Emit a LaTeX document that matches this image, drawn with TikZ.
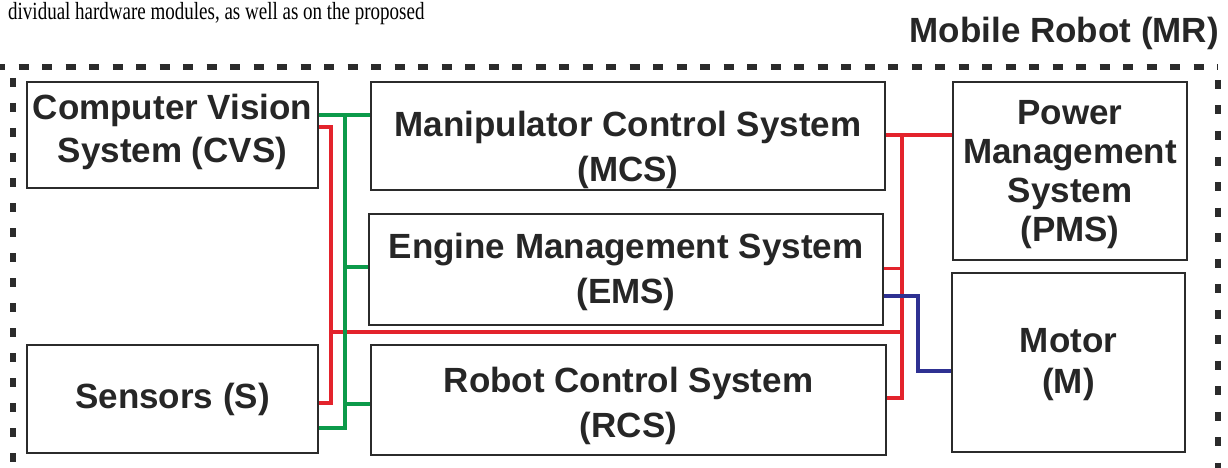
\documentclass[tikz,border=0pt]{standalone}
\usepackage{fontspec}
\setmainfont{Liberation Sans}
\newfontfamily\serifhdr{Liberation Serif}
\usetikzlibrary{calc}
\pgfdeclarelayer{bg}
\pgfsetlayers{bg,main}
\definecolor{bx}{HTML}{2B2B2B}
\definecolor{tx}{HTML}{262626}
\definecolor{rd}{HTML}{E3232C}
\definecolor{gn}{HTML}{0C9A4A}
\definecolor{bl}{HTML}{2E3192}
\begin{document}
\begin{tikzpicture}[x=1pt,y=-1pt,
  box/.style={draw=bx,line width=2.8pt,fill=white,inner sep=0pt},
  lbl/.style={text=tx,align=center,inner sep=0pt,font=\bfseries\fontsize{35}{#1}\selectfont},
  lbl/.default=42,
  rw/.style={draw=rd,line width=4pt},
  gw/.style={draw=gn,line width=4pt},
  bw/.style={draw=bl,line width=4pt},
  border/.style={draw=bx,line width=6pt}]
\useasboundingbox (0,0) rectangle (1228,468);

% header text
\node[anchor=base west,inner sep=0pt,text=black,yscale=1.3,font=\serifhdr\fontsize{19}{22}\selectfont] (hdr) at (8,19.5) {dividual hardware modules, as well as on the proposed};
\node[anchor=base east,lbl=40] (mr) at (1219,43) {Mobile Robot (MR)};

% dashed border
\draw[border,dash pattern=on 10pt off 13.5pt] (-5,67) -- (1218,67);
\draw[border,dash pattern=on 9pt off 16pt] (12.5,78) -- (12.5,475);
\draw[border,dash pattern=on 9pt off 16.5pt] (1218,80) -- (1218,475);

% boxes
\node[box,minimum width=291pt,minimum height=106pt] (cvs) at (172.5,135) {};
\node[box,minimum width=291pt,minimum height=108pt] (sens) at (172.5,399) {};
\node[box,minimum width=514pt,minimum height=108pt] (mcs) at (628,136) {};
\node[box,minimum width=514pt,minimum height=111pt] (ems) at (626,269.5) {};
\node[box,minimum width=515pt,minimum height=110pt] (rcs) at (628.5,400) {};
\node[box,minimum width=234pt,minimum height=178pt] (pms) at (1070,171) {};
\node[box,minimum width=233pt,minimum height=179pt] (motor) at (1068.5,362.5) {};

% bus coordinates
\coordinate (rb) at (331,0);
\coordinate (gb) at (345,0);
\coordinate (rb2) at (902,0);
\coordinate (bb) at (918,0);

\begin{pgfonlayer}{bg}
\fill[white] (0,0) rectangle (1228,468);
% red wires
\draw[rw] (cvs.east |- 0,127) -- (rb |- 0,127) -- (rb |- 0,403) -- (sens.east |- 0,403);
\draw[rw] (rb |- 0,332) -- (rb2 |- 0,332);
\draw[rw] (mcs.east |- 0,135) -- (pms.west |- 0,135);
\draw[rw] (rb2 |- 0,135) -- (rb2 |- 0,398) -- (rcs.east |- 0,398);
\draw[rw,line width=3pt] (ems.east |- 0,268) -- (rb2 |- 0,268);
% green wires
\draw[gw] (cvs.east |- 0,115) -- (mcs.west |- 0,115);
\draw[gw] (gb |- 0,115) -- (gb |- 0,428) -- (sens.east |- 0,428);
\draw[gw] (gb |- 0,267) -- (ems.west |- 0,267);
\draw[gw] (gb |- 0,404) -- (rcs.west |- 0,404);
% blue wire
\draw[bw] (ems.east |- 0,296) -- (bb |- 0,296) -- (bb |- 0,371) -- (motor.west |- 0,371);
\end{pgfonlayer}

% texts
\node[lbl=43] (cvsT) at ([yshift=3pt]cvs.center) {Computer Vision\\System (CVS)};
\node[lbl] (sensT) at (sens.center) {Sensors (S)};
\node[lbl=45] (mcsT) at ([yshift=-14pt]mcs.center) {Manipulator Control System\\(MCS)};
\node[lbl=45] (emsT) at ([yshift=-2pt]ems.center) {Engine Management System\\(EMS)};
\node[lbl=45] (rcsT) at ([yshift=-6pt]rcs.center) {Robot Control System\\(RCS)};
\node[lbl=39] (pmsT) at ([yshift=-4pt]pms.center) {Power\\Management\\System\\(PMS)};
\node[lbl=41] (motorT) at ([yshift=-2pt]motor.center) {Motor\\(M)};
\end{tikzpicture}
\end{document}
